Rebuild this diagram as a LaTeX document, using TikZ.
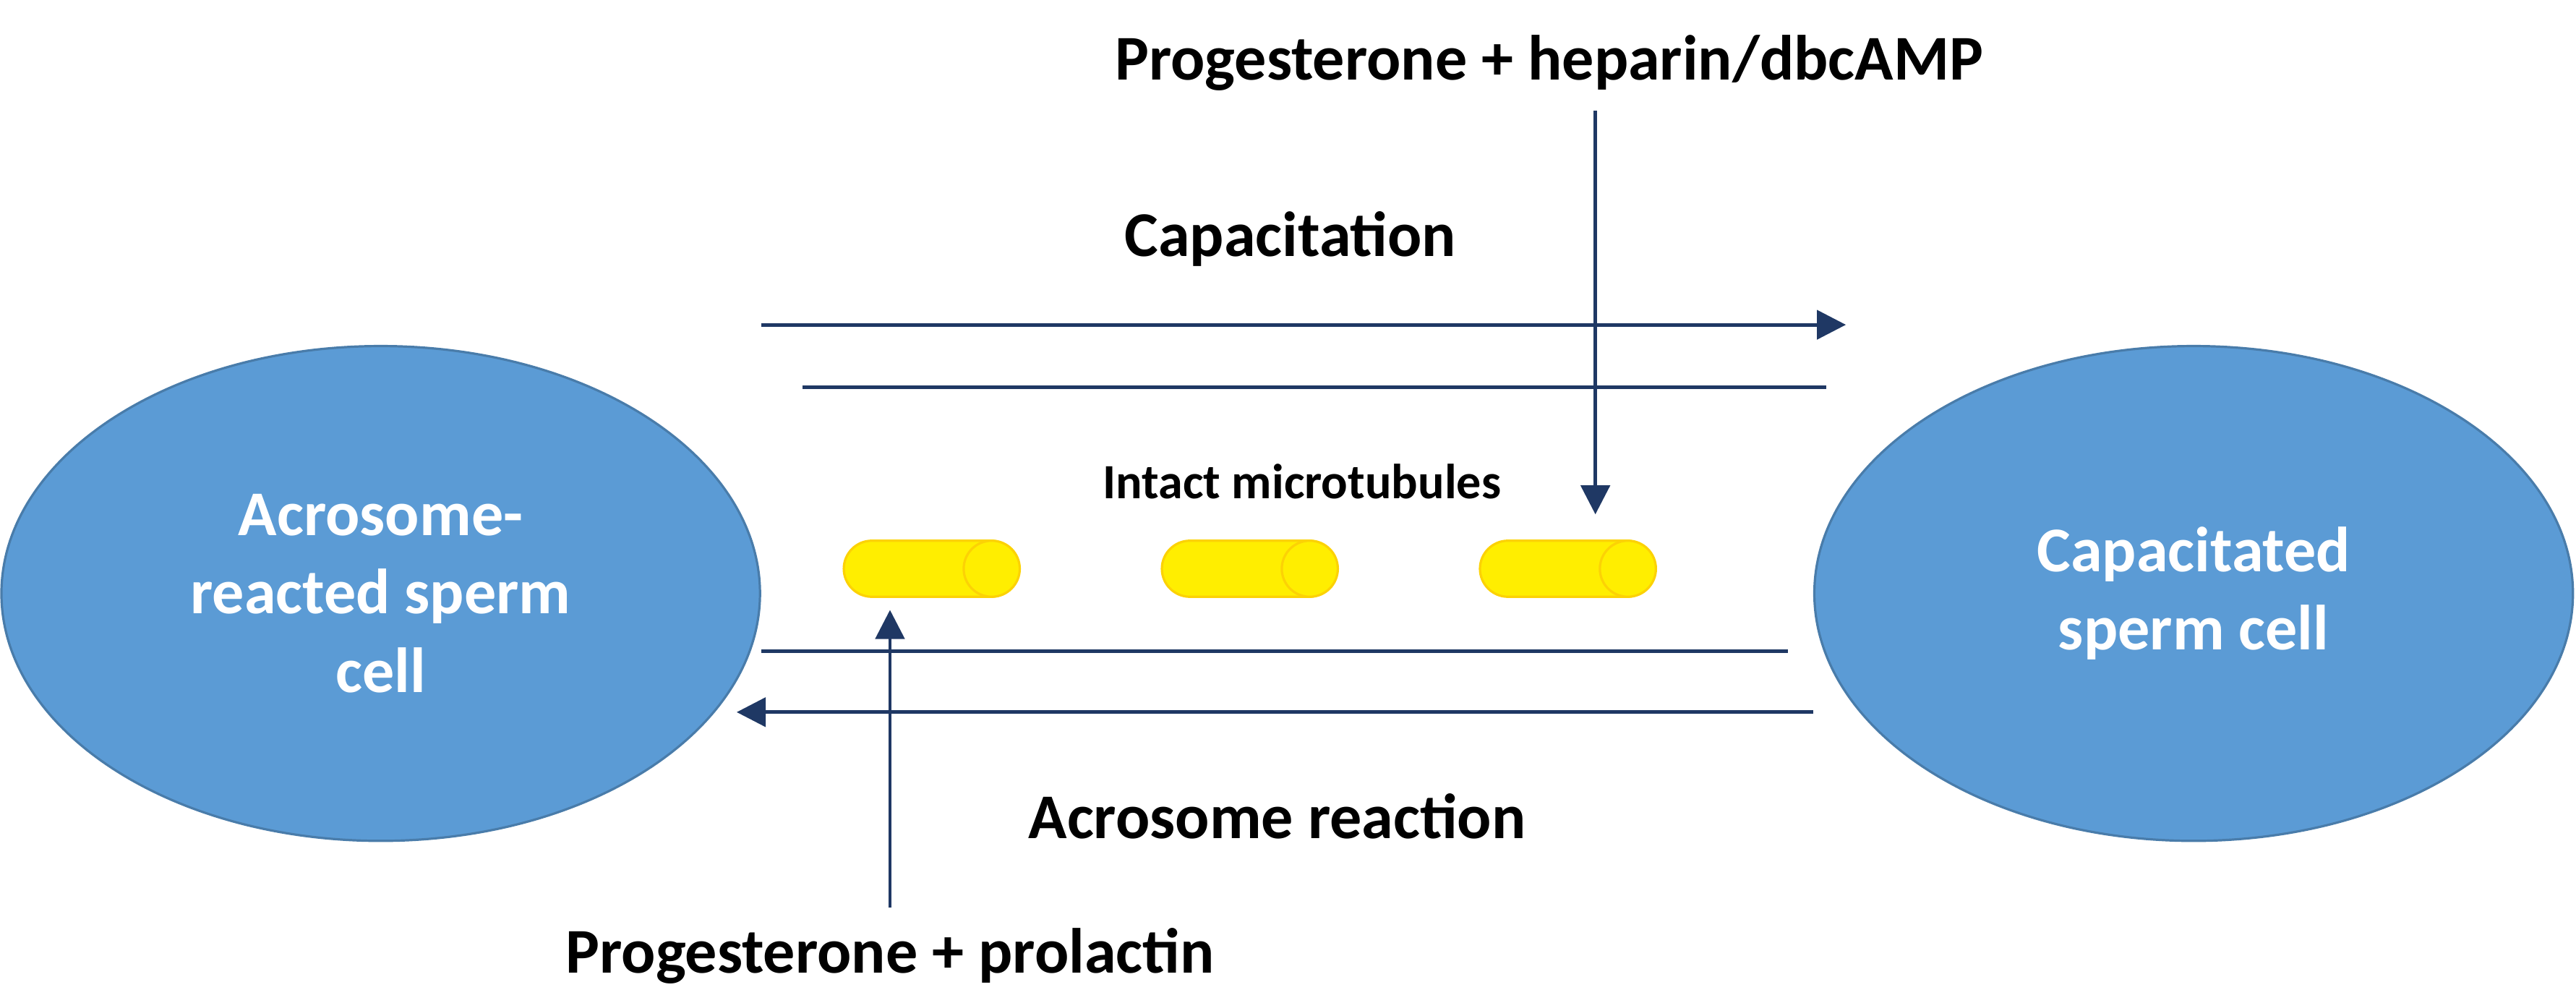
\documentclass[tikz,border=0pt]{standalone}
\usepackage{fontspec}
\setmainfont{Carlito}
\usetikzlibrary{shapes.misc,shapes.geometric,arrows.meta}
\definecolor{cellblue}{HTML}{5B9BD5}
\definecolor{navy}{HTML}{1F3864}
\definecolor{tubey}{HTML}{FFEE00}
\tikzset{
  cell/.style={ellipse,fill=cellblue,draw=cellblue!80!black,line width=0.4pt,minimum width=4.6cm,minimum height=3cm,text=white,font=\fontsize{11}{13.5}\selectfont\bfseries,align=center},
  path/.style={navy,line width=0.6pt},
  flow/.style={path,-{Triangle[length=5pt,width=5pt]}},
  lbl/.style={font=\fontsize{11}{13}\selectfont\bfseries},
  tube/.style={rounded rectangle,fill=tubey,draw=yellow!70!orange,minimum width=1.06cm,minimum height=0.34cm,inner sep=0pt},
}
\begin{document}
\begin{tikzpicture}[x=0.01cm,y=-0.01cm]
\useasboundingbox (0,0) rectangle (1563,608);
% cells
\node[cell] (ar) at (231,360) {Acrosome-\\reacted sperm\\cell};
\node[cell] (cap) at (1331,360) {Capacitated\\sperm cell};
% capacitation pathway
\coordinate (c1) at (462,197);
\coordinate (c2) at (1120,197);
\draw[flow] (c1) -- (c2);
\coordinate (c3) at (487,235);
\coordinate (c4) at (1108,235);
\draw[path] (c3) -- (c4);
\node[lbl] (captxt) at (783,145) {Capacitation};
% acrosome reaction pathway
\coordinate (r1) at (462,395);
\coordinate (r2) at (1085,395);
\draw[path] (r1) -- (r2);
\coordinate (r3) at (1100,432);
\coordinate (r4) at (447,432);
\draw[flow] (r3) -- (r4);
\node[lbl] (artxt) at (775,495) {Acrosome reaction};
% microtubules
\node[font=\fontsize{8.5}{10}\selectfont\bfseries] (mt) at (790,292) {Intact microtubules};
\foreach \x [count=\i] in {565,758,951}{
  \node[tube] (t\i) at (\x,345) {};
  \draw[draw=yellow!70!orange,fill=tubey] ([xshift=-0.17cm]t\i.east) circle[radius=0.17cm];
}
% stimuli
\node[lbl] (top) at (940,38) {Progesterone + heparin/dbcAMP};
\coordinate (tp) at (968,312);
\draw[flow] (top.south -| tp) -- (tp);
\node[lbl] (bot) at (540,580) {Progesterone + prolactin};
\coordinate (bp) at (540,370);
\draw[flow] (bot.north -| bp) -- (bp);
\end{tikzpicture}
\end{document}
